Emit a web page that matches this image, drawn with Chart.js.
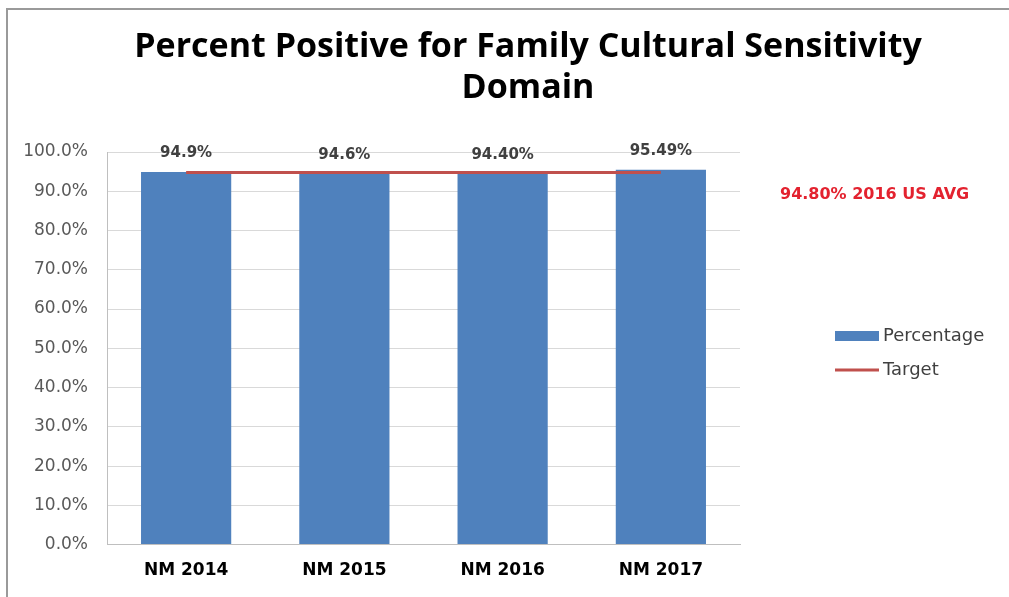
<!DOCTYPE html>
<html>
<head>
<meta charset="utf-8">
<title>Percent Positive for Family Cultural Sensitivity Domain</title>
<script src="https://cdn.jsdelivr.net/npm/chart.js@4/dist/chart.umd.min.js"></script>
<style>
  html, body { margin: 0; padding: 0; background: #ffffff; }
  #wrap { width: 1009px; height: 597px; position: relative; }
</style>
</head>
<body>
<div id="wrap"><canvas id="chart"></canvas></div>
<script>
// Survey results by year
const categories = ['NM 2014', 'NM 2015', 'NM 2016', 'NM 2017'];
const percentage = [94.9, 94.6, 94.40, 95.49];
const percentDecimals = [1, 1, 2, 2];
const targetValue = 94.80;
const target = categories.map(() => targetValue);
const targetNote = '94.80% 2016 US AVG';
const titleLines = ['Percent Positive for Family Cultural Sensitivity', 'Domain'];

const BAR_BLUE = '#4f81bd';
const TARGET_RED = '#c0504d';

// Outer frame of the chart object
const framePlugin = {
  id: 'frame',
  beforeDraw(chart) {
    const ctx = chart.ctx;
    ctx.save();
    ctx.fillStyle = '#ffffff';
    ctx.fillRect(0, 0, chart.width, chart.height);
    ctx.strokeStyle = '#9a9a9a';
    ctx.lineWidth = 2;
    ctx.strokeRect(7, 9, chart.width + 20, chart.height + 20);
    ctx.restore();
  }
};

// Two-line heading, centred on the framed object
const headingPlugin = {
  id: 'heading',
  afterDraw(chart) {
    const ctx = chart.ctx;
    const cx = (7 + chart.width + 40) / 2;
    ctx.save();
    ctx.font = 'bold 34px "Open Sans"';
    ctx.fillStyle = '#000000';
    ctx.textAlign = 'center';
    ctx.textBaseline = 'middle';
    titleLines.forEach((line, i) => ctx.fillText(line, cx, 47 + i * 41));
    ctx.restore();
  }
};

// Value labels above each bar
const barLabelPlugin = {
  id: 'barLabels',
  afterDatasetsDraw(chart) {
    const ctx = chart.ctx;
    const meta = chart.getDatasetMeta(0);
    ctx.save();
    ctx.font = 'bold 15px "DejaVu Sans"';
    ctx.fillStyle = '#404040';
    ctx.textAlign = 'center';
    ctx.textBaseline = 'bottom';
    meta.data.forEach((bar, i) => {
      const v = chart.data.datasets[0].data[i];
      ctx.fillText(v.toFixed(percentDecimals[i]) + '%', bar.x, bar.y - 11);
    });
    ctx.restore();
  }
};

// Target note and legend in the right-hand panel
const sidePlugin = {
  id: 'sidePanel',
  afterDraw(chart) {
    const ctx = chart.ctx;
    const area = chart.chartArea;
    ctx.save();
    ctx.font = 'bold 16px "DejaVu Sans"';
    ctx.fillStyle = '#e3222f';
    ctx.textAlign = 'left';
    ctx.textBaseline = 'middle';
    ctx.fillText(targetNote, area.right + 40, area.top + 43);

    const lx = area.right + 95;
    const ly = area.top + 184;
    const ds = chart.data.datasets;
    ctx.font = '18px "DejaVu Sans"';
    // bar entry
    ctx.fillStyle = ds[0].backgroundColor;
    ctx.fillRect(lx, ly - 5, 44, 10);
    ctx.fillStyle = '#404040';
    ctx.fillText(ds[0].label, lx + 48, ly);
    // line entry
    ctx.strokeStyle = ds[1].borderColor;
    ctx.lineWidth = 3;
    ctx.beginPath();
    ctx.moveTo(lx, ly + 34);
    ctx.lineTo(lx + 44, ly + 34);
    ctx.stroke();
    ctx.fillText(ds[1].label, lx + 48, ly + 34);
    ctx.restore();
  }
};

new Chart(document.getElementById('chart'), {
  data: {
    labels: categories,
    datasets: [
      {
        type: 'bar',
        label: 'Percentage',
        data: percentage,
        backgroundColor: BAR_BLUE,
        categoryPercentage: 1.0,
        barPercentage: 0.57,
        order: 1
      },
      {
        type: 'line',
        label: 'Target',
        data: target,
        borderColor: TARGET_RED,
        borderWidth: 3,
        pointRadius: 0,
        fill: false,
        order: 0
      }
    ]
  },
  options: {
    responsive: true,
    maintainAspectRatio: false,
    animation: false,
    layout: { padding: { left: 7, right: 0, top: 152, bottom: 0 } },
    plugins: {
      legend: { display: false },
      tooltip: { enabled: false },
      title: { display: false }
    },
    scales: {
      x: {
        grid: { display: false, drawTicks: false },
        border: { display: true, color: '#bfbfbf' },
        ticks: {
          color: '#000000',
          padding: 16,
          font: { family: '"DejaVu Sans"', size: 17, weight: 'bold' }
        }
      },
      y: {
        min: 0,
        max: 100,
        afterFit(axis) { axis.width = 100; },
        grid: { color: '#d9d9d9', drawTicks: false },
        border: { display: true, color: '#bfbfbf' },
        ticks: {
          stepSize: 10,
          padding: 19,
          color: '#595959',
          font: { family: '"DejaVu Sans"', size: 17 },
          callback: (v) => Number(v).toFixed(1) + '%'
        }
      },
      // empty right-hand panel that holds the note and legend
      panel: {
        position: 'right',
        display: true,
        afterFit(axis) { axis.width = 269; },
        grid: { display: false, drawTicks: false },
        border: { display: false },
        ticks: { display: false }
      }
    }
  },
  plugins: [framePlugin, headingPlugin, barLabelPlugin, sidePlugin]
});
</script>
</body>
</html>
